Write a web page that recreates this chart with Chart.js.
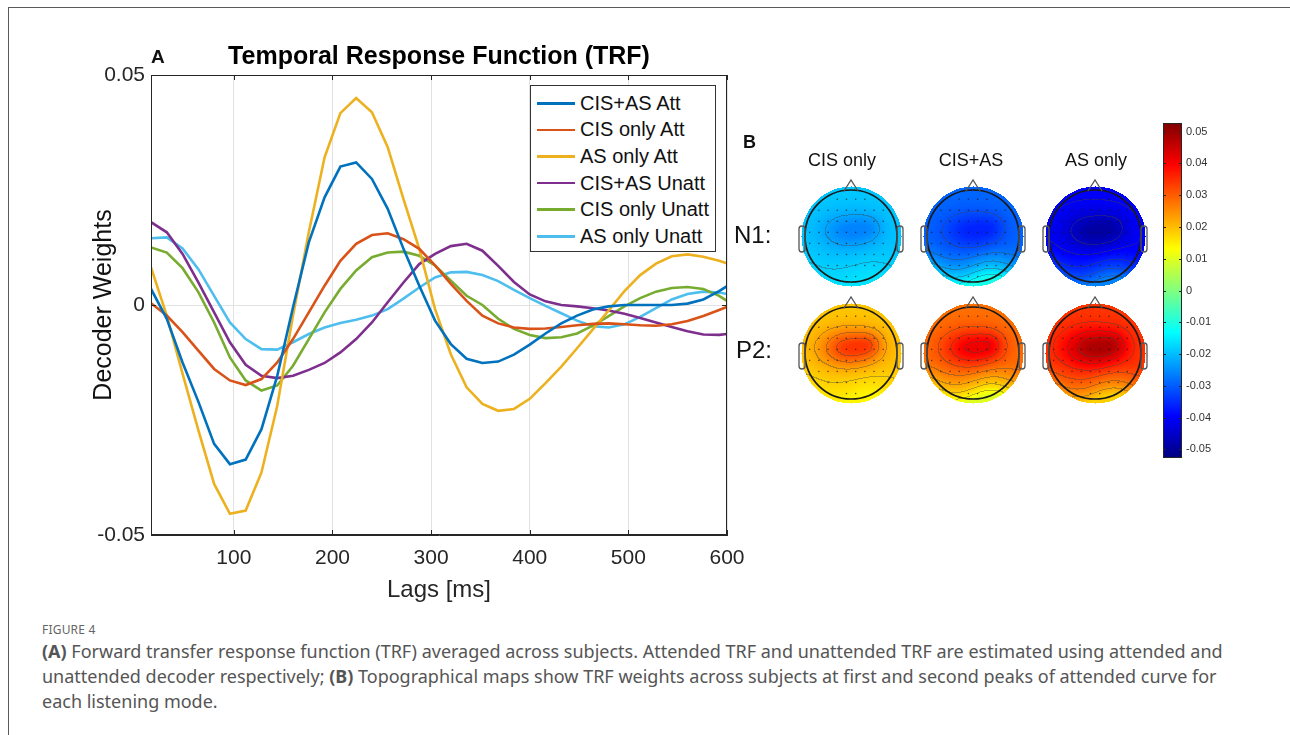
<!DOCTYPE html>
<html>
<head>
<meta charset="utf-8">
<script src="https://cdn.jsdelivr.net/npm/chart.js@4.4.1/dist/chart.umd.min.js"></script>
<style>
  body { margin: 0; width: 1290px; height: 735px; background: #fff; position: relative; overflow: hidden;
         font-family: Arial, "Liberation Sans", sans-serif; }
  .frame { position: absolute; left: 8px; top: 7px; width: 1300px; height: 740px;
           border-left: 1.5px solid #5a5a5a; border-top: 1.5px solid #5a5a5a; }
  canvas { position: absolute; }
  #trf { left: 80px; top: 30px; }
  #heads { left: 785px; top: 150px; }
  #cbar { left: 1150px; top: 100px; }
  .lbl { position: absolute; white-space: nowrap; color: #111; }
  #legend { position: absolute; left: 530px; top: 85px; width: 186px; height: 167px; box-sizing: border-box;
            border: 1px solid #333; background: #fff; padding-top: 4px; }
  #legend .row { height: 26.6px; display: flex; align-items: center; font-size: 20px; color: #111; }
  #legend .swatch { margin-left: 6px; width: 38px; height: 2.5px; margin-right: 5px; }
  #caption { position: absolute; left: 42px; top: 620px; color: #555; font-family: "Noto Sans", sans-serif; }
  #caption .fig { font-size: 12px; letter-spacing: 0.2px; height: 19px; line-height: 19px; color: #666; }
  #caption .line { font-size: 18px; line-height: 25px; white-space: nowrap; }
</style>
</head>
<body>
<div class="frame"></div>

<canvas id="trf" width="690" height="580"></canvas>
<div class="lbl" style="left:151px;top:46px;font-size:19px;font-weight:bold;">A</div>
<div id="legend"></div>

<div class="lbl" style="left:743px;top:132px;font-size:18px;font-weight:bold;">B</div>
<div id="colTitles"></div>
<div id="rowTitles"></div>
<canvas id="heads" width="376" height="290"></canvas>
<canvas id="cbar" width="80" height="380"></canvas>

<div id="caption">
  <div class="fig">FIGURE 4</div>
  <div class="line"><b>(A)</b> Forward transfer response function (TRF) averaged across subjects. Attended TRF and unattended TRF are estimated using attended and</div>
  <div class="line">unattended decoder respectively; <b>(B)</b> Topographical maps show TRF weights across subjects at first and second peaks of attended curve for</div>
  <div class="line">each listening mode.</div>
</div>

<script>
// lags in ms
const lags = [16, 32, 48, 64, 80, 96, 112, 128, 144, 160, 176, 192, 208, 224, 240, 256, 272, 288, 304,
  320, 336, 352, 368, 384, 400, 416, 432, 448, 464, 480, 496, 512, 528, 544, 560, 576, 592, 608];

const cisAsAtt = [0.0035, -0.0030, -0.0125, -0.0210, -0.0302, -0.0346, -0.0336, -0.0270, -0.0154, -0.0005,
  0.0136, 0.0234, 0.0301, 0.0310, 0.0274, 0.0209, 0.0122, 0.0042, -0.0034, -0.0085, -0.0117, -0.0126,
  -0.0123, -0.0108, -0.0086, -0.0062, -0.0040, -0.0023, -0.0010, -0.0003, 0.0000, 0.0000, 0.0000, 0.0000,
  0.0003, 0.0012, 0.0030, 0.0052];
const cisOnlyAtt = [0.0004, -0.0023, -0.0059, -0.0099, -0.0139, -0.0164, -0.0174, -0.0161, -0.0125, -0.0074,
  -0.0016, 0.0042, 0.0096, 0.0133, 0.0152, 0.0156, 0.0143, 0.0122, 0.0086, 0.0046, 0.0009, -0.0023,
  -0.0040, -0.0049, -0.0052, -0.0051, -0.0048, -0.0044, -0.0041, -0.0040, -0.0042, -0.0044, -0.0045,
  -0.0042, -0.0035, -0.0024, -0.0011, 0.0003];
const asOnlyAtt = [0.0082, -0.0023, -0.0149, -0.0272, -0.0389, -0.0454, -0.0447, -0.0364, -0.0219, -0.0023,
  0.0158, 0.0321, 0.0417, 0.0450, 0.0419, 0.0343, 0.0230, 0.0122, -0.0009, -0.0107, -0.0179, -0.0215,
  -0.0230, -0.0226, -0.0204, -0.0170, -0.0134, -0.0094, -0.0053, -0.0012, 0.0030, 0.0065, 0.0090, 0.0106,
  0.0110, 0.0105, 0.0096, 0.0085];
const cisAsUnatt = [0.0180, 0.0158, 0.0111, 0.0049, -0.0016, -0.0081, -0.0130, -0.0154, -0.0159, -0.0154,
  -0.0141, -0.0126, -0.0103, -0.0074, -0.0038, 0.0006, 0.0049, 0.0089, 0.0111, 0.0128, 0.0133, 0.0118,
  0.0085, 0.0050, 0.0023, 0.0008, 0.0000, -0.0003, -0.0007, -0.0012, -0.0019, -0.0028, -0.0038, -0.0048,
  -0.0057, -0.0064, -0.0065, -0.0061];
const cisOnlyUnatt = [0.0125, 0.0114, 0.0080, 0.0028, -0.0038, -0.0114, -0.0164, -0.0186, -0.0175, -0.0132,
  -0.0074, -0.0016, 0.0035, 0.0075, 0.0104, 0.0114, 0.0116, 0.0107, 0.0086, 0.0053, 0.0020, 0.0000,
  -0.0030, -0.0052, -0.0065, -0.0072, -0.0070, -0.0062, -0.0045, -0.0024, -0.0003, 0.0015, 0.0029, 0.0037,
  0.0039, 0.0035, 0.0020, -0.0002];
const asOnlyUnatt = [0.0145, 0.0147, 0.0123, 0.0078, 0.0020, -0.0038, -0.0074, -0.0096, -0.0097, -0.0081,
  -0.0063, -0.0049, -0.0039, -0.0032, -0.0023, -0.0009, 0.0014, 0.0038, 0.0060, 0.0071, 0.0072, 0.0065,
  0.0052, 0.0033, 0.0015, -0.0002, -0.0018, -0.0034, -0.0046, -0.0049, -0.0042, -0.0026, -0.0007, 0.0012,
  0.0024, 0.0029, 0.0027, 0.0021];

const seriesNames = ['CIS+AS Att', 'CIS only Att', 'AS only Att', 'CIS+AS Unatt', 'CIS only Unatt', 'AS only Unatt'];
const seriesValues = [cisAsAtt, cisOnlyAtt, asOnlyAtt, cisAsUnatt, cisOnlyUnatt, asOnlyUnatt];
const seriesColors = ['#0072BD', '#D95319', '#EDB120', '#7E2F8E', '#77AC30', '#4DBEEE'];

const xTicks = [100, 200, 300, 400, 500, 600];
const yTicks = [-0.05, 0, 0.05];

// panel B: topographic maps (value at peak, at rim, at the back of the head)
const topoConds = ['CIS only', 'CIS+AS', 'AS only'];
const topoRows = ['N1:', 'P2:'];
const topoPeak = [[-0.026, -0.036, -0.049], [0.034, 0.041, 0.048]];
const topoRim = [[-0.019, -0.029, -0.040], [0.019, 0.028, 0.034]];
const topoBack = [[-0.016, -0.011, -0.026], [0.014, 0.010, 0.018]];
const cbTicks = [-0.05, -0.04, -0.03, -0.02, -0.01, 0, 0.01, 0.02, 0.03, 0.04, 0.05];
const cbLimit = 0.0527;

const FONT = 'Arial, "Liberation Sans", sans-serif';
Chart.defaults.font.family = FONT;
Chart.defaults.color = '#262626';

const fmt = v => (v === 0 ? '0' : v.toFixed(2));

// ---------- panel A ----------
const axesBox = {
  id: 'axesBox',
  afterDraw(chart) {
    const { ctx, chartArea: a, scales } = chart;
    ctx.save();
    ctx.strokeStyle = '#262626';
    ctx.lineWidth = 1;
    ctx.strokeRect(a.left + 0.5, a.top + 0.5, a.right - a.left - 1, a.bottom - a.top - 1);
    ctx.beginPath();
    xTicks.forEach(v => {
      const x = Math.round(scales.x.getPixelForValue(v)) + 0.5;
      ctx.moveTo(x, a.bottom); ctx.lineTo(x, a.bottom - 5);
      ctx.moveTo(x, a.top); ctx.lineTo(x, a.top + 5);
    });
    yTicks.forEach(v => {
      const y = Math.round(scales.y.getPixelForValue(v)) + 0.5;
      ctx.moveTo(a.left, y); ctx.lineTo(a.left + 5, y);
      ctx.moveTo(a.right, y); ctx.lineTo(a.right - 5, y);
    });
    ctx.stroke();
    ctx.restore();
  }
};

const trfChart = new Chart(document.getElementById('trf'), {
  type: 'line',
  data: {
    datasets: seriesNames.map((name, i) => ({
      label: name,
      data: lags.map((t, j) => ({ x: t, y: seriesValues[i][j] })),
      borderColor: seriesColors[i],
      borderWidth: 2.6,
      pointRadius: 0,
      tension: 0,
      fill: false
    }))
  },
  options: {
    responsive: false,
    animation: false,
    layout: { padding: { right: 0 } },
    plugins: {
      legend: { display: false },
      tooltip: { enabled: false },
      title: {
        display: true,
        text: 'Temporal Response Function (TRF)',
        fullSize: false,
        color: '#000',
        font: { size: 25, weight: 'bold' },
        padding: { top: 12, bottom: 3 }
      }
    },
    scales: {
      x: {
        type: 'linear',
        min: 16,
        max: 600,
        afterBuildTicks: s => { s.ticks = xTicks.map(v => ({ value: v })); },
        afterFit: s => { s.height = 75; s.paddingRight = 43; s.paddingLeft = 0; },
        ticks: { font: { size: 21 }, color: '#262626', padding: 11, maxRotation: 0, autoSkip: false },
        grid: { color: '#e2e2e2', drawTicks: false },
        border: { color: '#262626' },
        title: { display: true, text: 'Lags [ms]', font: { size: 24 }, color: '#262626', padding: { top: 0, bottom: 5 } }
      },
      y: {
        min: -0.05,
        max: 0.05,
        afterBuildTicks: s => { s.ticks = yTicks.map(v => ({ value: v })); },
        afterFit: s => { s.width = 71; },
        ticks: { font: { size: 21 }, color: '#262626', padding: 6, callback: v => fmt(v) },
        grid: { color: c => (c.tick && c.tick.value === 0 ? '#e2e2e2' : 'rgba(0,0,0,0)'), drawTicks: false },
        border: { color: '#262626' },
        title: { display: true, text: 'Decoder Weights', font: { size: 25 }, color: '#111', padding: { top: 9, bottom: 0 } }
      }
    }
  },
  plugins: [axesBox]
});

// legend built from the chart's datasets
const legendEl = document.getElementById('legend');
trfChart.data.datasets.forEach(ds => {
  const row = document.createElement('div');
  row.className = 'row';
  row.innerHTML = '<span class="swatch" style="background:' + ds.borderColor + '"></span><span>' + ds.label + '</span>';
  legendEl.appendChild(row);
});

// ---------- panel B ----------
function jet(v) {
  const t = Math.max(0, Math.min(1, (v + cbLimit) / (2 * cbLimit)));
  const f = c => Math.round(255 * Math.max(0, Math.min(1, 1.5 - Math.abs(4 * t - c))));
  return [f(3), f(2), f(1)];
}

function makeHead(peak, rim, back) {
  const S = 124, c = 62, Ro = 46, R = 50;
  const cv = document.createElement('canvas');
  cv.width = S; cv.height = S;
  const g = cv.getContext('2d');
  const img = g.createImageData(S, S);
  const lev = new Int16Array(S * S).fill(-999);
  const vals = new Float32Array(S * S);
  for (let py = 0; py < S; py++) {
    for (let px = 0; px < S; px++) {
      const dx = (px - c) / Ro, dy = (py - c) / Ro;
      if (dx * dx + dy * dy > (R / Ro) * (R / Ro)) continue;
      // broad frontal-central blob plus a weaker lobe to the right
      const w1 = Math.exp(-((dx + 0.05) * (dx + 0.05) / 0.38 + (dy + 0.12) * (dy + 0.12) / 0.16));
      const w2 = Math.exp(-((dx - 0.4) * (dx - 0.4) / 0.08 + (dy + 0.2) * (dy + 0.2) / 0.08));
      const w = Math.min(1, w1 + 0.35 * w2);
      const s = Math.min(1, Math.max(0, (dy - 0.05 + 0.1 * Math.sin(dx * 4)) / 0.95));
      const base = rim + (back - rim) * s * s;
      const v = base + (peak - base) * w;
      vals[py * S + px] = v;
      lev[py * S + px] = Math.floor(v / 0.0045);
    }
  }
  for (let py = 0; py < S; py++) {
    for (let px = 0; px < S; px++) {
      const i = py * S + px;
      if (lev[i] === -999) continue;
      let [r, gg, b] = jet(vals[i]);
      const right = px + 1 < S ? lev[i + 1] : -999;
      const down = py + 1 < S ? lev[i + S] : -999;
      if ((right !== -999 && right !== lev[i]) || (down !== -999 && down !== lev[i])) {
        r = r * 0.62 + 25; gg = gg * 0.62 + 25; b = b * 0.62 + 25;
      }
      img.data[i * 4] = r; img.data[i * 4 + 1] = gg; img.data[i * 4 + 2] = b; img.data[i * 4 + 3] = 255;
    }
  }
  g.putImageData(img, 0, 0);
  // electrode dots
  g.fillStyle = 'rgba(20,20,20,0.7)';
  for (let ry = -0.8; ry <= 0.9; ry += 0.24) {
    for (let rx = -0.9; rx <= 0.9; rx += 0.2) {
      if (rx * rx + ry * ry < 0.85) g.fillRect(c + rx * Ro - 0.6, c + ry * Ro - 0.6, 1.3, 1.3);
    }
  }
  // outline, nose, ears
  g.strokeStyle = '#1a1a1a';
  g.lineWidth = 1.7;
  g.beginPath(); g.arc(c, c, Ro, 0, Math.PI * 2); g.stroke();
  g.strokeStyle = '#555';
  g.lineWidth = 1.3;
  g.beginPath(); g.moveTo(c - 7, c - Ro + 1); g.lineTo(c, c - Ro - 10); g.lineTo(c + 7, c - Ro + 1); g.stroke();
  g.beginPath(); g.roundRect(c - Ro - 6, c - 10, 6, 26, 3); g.stroke();
  g.beginPath(); g.roundRect(c + Ro, c - 10, 6, 26, 3); g.stroke();
  return cv;
}

const headImages = topoRows.map((_, r) => topoConds.map((_, k) => makeHead(topoPeak[r][k], topoRim[r][k], topoBack[r][k])));

new Chart(document.getElementById('heads'), {
  type: 'scatter',
  data: {
    datasets: topoRows.map((row, r) => ({
      label: row,
      data: topoConds.map((_, k) => ({ x: k + 0.5, y: r + 0.5 })),
      pointStyle: headImages[r],
      clip: false
    }))
  },
  options: {
    responsive: false,
    animation: false,
    events: [],
    layout: { padding: { top: 27.5, bottom: 28.5, left: 0, right: 0 } },
    plugins: { legend: { display: false }, tooltip: { enabled: false } },
    scales: {
      x: { display: false, min: 0, max: 3 },
      y: { display: false, min: 0, max: 2, reverse: true }
    }
  }
});

// column and row titles
const colPos = [842, 971, 1096];
const colEl = document.getElementById('colTitles');
topoConds.forEach((t, k) => {
  const d = document.createElement('div');
  d.className = 'lbl';
  d.style.cssText = 'left:' + colPos[k] + 'px;top:150px;font-size:18px;transform:translateX(-50%);';
  d.textContent = t;
  colEl.appendChild(d);
});
const rowPos = [221, 336];
const rowEl = document.getElementById('rowTitles');
topoRows.forEach((t, r) => {
  const d = document.createElement('div');
  d.className = 'lbl';
  d.style.cssText = 'left:' + (734 + r * 2) + 'px;top:' + rowPos[r] + 'px;font-size:24px;';
  d.textContent = t;
  rowEl.appendChild(d);
});

// colorbar
const jetFill = {
  id: 'jetFill',
  beforeDatasetsDraw(chart) {
    const { ctx, chartArea: a, scales } = chart;
    const grad = ctx.createLinearGradient(0, a.top, 0, a.bottom);
    for (let i = 0; i <= 40; i++) {
      const v = cbLimit - (2 * cbLimit * i) / 40;
      const [r, g, b] = jet(v);
      grad.addColorStop(i / 40, 'rgb(' + r + ',' + g + ',' + b + ')');
    }
    ctx.save();
    ctx.fillStyle = grad;
    ctx.fillRect(a.left, a.top, a.right - a.left, a.bottom - a.top);
    ctx.strokeStyle = '#262626';
    ctx.lineWidth = 1;
    ctx.strokeRect(a.left + 0.5, a.top + 0.5, a.right - a.left - 1, a.bottom - a.top - 1);
    ctx.beginPath();
    cbTicks.forEach(v => {
      const y = Math.round(scales.y.getPixelForValue(v)) + 0.5;
      ctx.moveTo(a.right, y); ctx.lineTo(a.right - 3, y);
      ctx.moveTo(a.left, y); ctx.lineTo(a.left + 3, y);
    });
    ctx.stroke();
    ctx.restore();
  }
};

new Chart(document.getElementById('cbar'), {
  type: 'scatter',
  data: { datasets: [{ data: [] }] },
  options: {
    responsive: false,
    animation: false,
    events: [],
    layout: { padding: { top: 23, bottom: 22, left: 13, right: 0 } },
    plugins: { legend: { display: false }, tooltip: { enabled: false } },
    scales: {
      x: { display: false, min: 0, max: 1 },
      y: {
        position: 'right',
        min: -cbLimit,
        max: cbLimit,
        afterBuildTicks: s => { s.ticks = cbTicks.map(v => ({ value: v })); },
        afterFit: s => { s.width = 48; },
        grid: { display: false, drawTicks: false },
        border: { display: false },
        ticks: { font: { size: 11 }, color: '#333', padding: 4, callback: v => fmt(v) }
      }
    }
  },
  plugins: [jetFill]
});
</script>
</body>
</html>
